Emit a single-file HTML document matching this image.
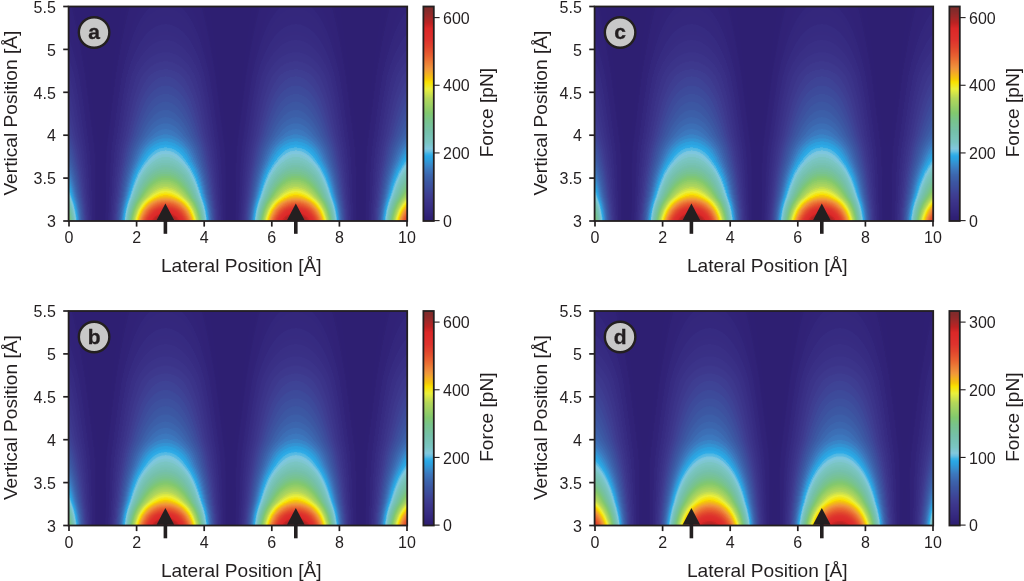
<!DOCTYPE html>
<html><head><meta charset="utf-8"><style>
html,body{margin:0;padding:0;background:#fff;width:1024px;height:581px;overflow:hidden}
canvas{position:absolute;filter:blur(0.35px)}
svg{position:absolute;left:0;top:0}
text{font-family:"Liberation Sans",sans-serif;fill:#231f20}
</style></head><body>
<svg width="1024" height="581" style="position:absolute;left:0;top:0"><defs>
<clipPath id="fc0"><rect x="68.6" y="6.5" width="338.6" height="214.5"/></clipPath>
<radialGradient id="fg0_0" gradientUnits="userSpaceOnUse" cx="34.9" cy="281.1" r="98.6" gradientTransform="translate(34.9,281.1) scale(1,3.046) translate(-34.9,-281.1)"><stop offset="0.000" stop-color="rgb(128,43,43)" stop-opacity="1.00"/><stop offset="0.042" stop-color="rgb(128,43,43)" stop-opacity="1.00"/><stop offset="0.083" stop-color="rgb(128,43,43)" stop-opacity="1.00"/><stop offset="0.125" stop-color="rgb(128,43,43)" stop-opacity="1.00"/><stop offset="0.167" stop-color="rgb(128,43,43)" stop-opacity="1.00"/><stop offset="0.208" stop-color="rgb(140,41,41)" stop-opacity="1.00"/><stop offset="0.250" stop-color="rgb(224,68,45)" stop-opacity="1.00"/><stop offset="0.292" stop-color="rgb(244,230,20)" stop-opacity="1.00"/><stop offset="0.333" stop-color="rgb(145,204,103)" stop-opacity="1.00"/><stop offset="0.375" stop-color="rgb(117,192,162)" stop-opacity="1.00"/><stop offset="0.417" stop-color="rgb(125,198,206)" stop-opacity="1.00"/><stop offset="0.458" stop-color="rgb(44,162,224)" stop-opacity="1.00"/><stop offset="0.500" stop-color="rgb(60,118,189)" stop-opacity="1.00"/><stop offset="0.542" stop-color="rgb(60,99,172)" stop-opacity="1.00"/><stop offset="0.583" stop-color="rgb(60,87,162)" stop-opacity="1.00"/><stop offset="0.625" stop-color="rgb(60,77,156)" stop-opacity="1.00"/><stop offset="0.667" stop-color="rgb(61,67,149)" stop-opacity="1.00"/><stop offset="0.708" stop-color="rgb(61,58,142)" stop-opacity="1.00"/><stop offset="0.750" stop-color="rgb(59,51,136)" stop-opacity="1.00"/><stop offset="0.792" stop-color="rgb(56,46,132)" stop-opacity="1.00"/><stop offset="0.833" stop-color="rgb(54,42,128)" stop-opacity="1.00"/><stop offset="0.875" stop-color="rgb(52,39,125)" stop-opacity="0.83"/><stop offset="0.917" stop-color="rgb(50,37,122)" stop-opacity="0.56"/><stop offset="0.958" stop-color="rgb(49,35,120)" stop-opacity="0.28"/><stop offset="1.000" stop-color="rgb(49,34,120)" stop-opacity="0.00"/></radialGradient>
<radialGradient id="fg0_1" gradientUnits="userSpaceOnUse" cx="165.4" cy="281.1" r="98.6" gradientTransform="translate(165.4,281.1) scale(1,3.046) translate(-165.4,-281.1)"><stop offset="0.000" stop-color="rgb(128,43,43)" stop-opacity="1.00"/><stop offset="0.042" stop-color="rgb(128,43,43)" stop-opacity="1.00"/><stop offset="0.083" stop-color="rgb(128,43,43)" stop-opacity="1.00"/><stop offset="0.125" stop-color="rgb(128,43,43)" stop-opacity="1.00"/><stop offset="0.167" stop-color="rgb(128,43,43)" stop-opacity="1.00"/><stop offset="0.208" stop-color="rgb(140,41,41)" stop-opacity="1.00"/><stop offset="0.250" stop-color="rgb(224,68,45)" stop-opacity="1.00"/><stop offset="0.292" stop-color="rgb(244,230,20)" stop-opacity="1.00"/><stop offset="0.333" stop-color="rgb(145,204,103)" stop-opacity="1.00"/><stop offset="0.375" stop-color="rgb(117,192,162)" stop-opacity="1.00"/><stop offset="0.417" stop-color="rgb(125,198,206)" stop-opacity="1.00"/><stop offset="0.458" stop-color="rgb(44,162,224)" stop-opacity="1.00"/><stop offset="0.500" stop-color="rgb(60,118,189)" stop-opacity="1.00"/><stop offset="0.542" stop-color="rgb(60,99,172)" stop-opacity="1.00"/><stop offset="0.583" stop-color="rgb(60,87,162)" stop-opacity="1.00"/><stop offset="0.625" stop-color="rgb(60,77,156)" stop-opacity="1.00"/><stop offset="0.667" stop-color="rgb(61,67,149)" stop-opacity="1.00"/><stop offset="0.708" stop-color="rgb(61,58,142)" stop-opacity="1.00"/><stop offset="0.750" stop-color="rgb(59,51,136)" stop-opacity="1.00"/><stop offset="0.792" stop-color="rgb(56,46,132)" stop-opacity="1.00"/><stop offset="0.833" stop-color="rgb(54,42,128)" stop-opacity="1.00"/><stop offset="0.875" stop-color="rgb(52,39,125)" stop-opacity="0.83"/><stop offset="0.917" stop-color="rgb(50,37,122)" stop-opacity="0.56"/><stop offset="0.958" stop-color="rgb(49,35,120)" stop-opacity="0.28"/><stop offset="1.000" stop-color="rgb(49,34,120)" stop-opacity="0.00"/></radialGradient>
<radialGradient id="fg0_2" gradientUnits="userSpaceOnUse" cx="295.9" cy="281.1" r="98.6" gradientTransform="translate(295.9,281.1) scale(1,3.046) translate(-295.9,-281.1)"><stop offset="0.000" stop-color="rgb(128,43,43)" stop-opacity="1.00"/><stop offset="0.042" stop-color="rgb(128,43,43)" stop-opacity="1.00"/><stop offset="0.083" stop-color="rgb(128,43,43)" stop-opacity="1.00"/><stop offset="0.125" stop-color="rgb(128,43,43)" stop-opacity="1.00"/><stop offset="0.167" stop-color="rgb(128,43,43)" stop-opacity="1.00"/><stop offset="0.208" stop-color="rgb(140,41,41)" stop-opacity="1.00"/><stop offset="0.250" stop-color="rgb(224,68,45)" stop-opacity="1.00"/><stop offset="0.292" stop-color="rgb(244,230,20)" stop-opacity="1.00"/><stop offset="0.333" stop-color="rgb(145,204,103)" stop-opacity="1.00"/><stop offset="0.375" stop-color="rgb(117,192,162)" stop-opacity="1.00"/><stop offset="0.417" stop-color="rgb(125,198,206)" stop-opacity="1.00"/><stop offset="0.458" stop-color="rgb(44,162,224)" stop-opacity="1.00"/><stop offset="0.500" stop-color="rgb(60,118,189)" stop-opacity="1.00"/><stop offset="0.542" stop-color="rgb(60,99,172)" stop-opacity="1.00"/><stop offset="0.583" stop-color="rgb(60,87,162)" stop-opacity="1.00"/><stop offset="0.625" stop-color="rgb(60,77,156)" stop-opacity="1.00"/><stop offset="0.667" stop-color="rgb(61,67,149)" stop-opacity="1.00"/><stop offset="0.708" stop-color="rgb(61,58,142)" stop-opacity="1.00"/><stop offset="0.750" stop-color="rgb(59,51,136)" stop-opacity="1.00"/><stop offset="0.792" stop-color="rgb(56,46,132)" stop-opacity="1.00"/><stop offset="0.833" stop-color="rgb(54,42,128)" stop-opacity="1.00"/><stop offset="0.875" stop-color="rgb(52,39,125)" stop-opacity="0.83"/><stop offset="0.917" stop-color="rgb(50,37,122)" stop-opacity="0.56"/><stop offset="0.958" stop-color="rgb(49,35,120)" stop-opacity="0.28"/><stop offset="1.000" stop-color="rgb(49,34,120)" stop-opacity="0.00"/></radialGradient>
<radialGradient id="fg0_3" gradientUnits="userSpaceOnUse" cx="426.3" cy="281.1" r="98.6" gradientTransform="translate(426.3,281.1) scale(1,3.046) translate(-426.3,-281.1)"><stop offset="0.000" stop-color="rgb(128,43,43)" stop-opacity="1.00"/><stop offset="0.042" stop-color="rgb(128,43,43)" stop-opacity="1.00"/><stop offset="0.083" stop-color="rgb(128,43,43)" stop-opacity="1.00"/><stop offset="0.125" stop-color="rgb(128,43,43)" stop-opacity="1.00"/><stop offset="0.167" stop-color="rgb(128,43,43)" stop-opacity="1.00"/><stop offset="0.208" stop-color="rgb(140,41,41)" stop-opacity="1.00"/><stop offset="0.250" stop-color="rgb(224,68,45)" stop-opacity="1.00"/><stop offset="0.292" stop-color="rgb(244,230,20)" stop-opacity="1.00"/><stop offset="0.333" stop-color="rgb(145,204,103)" stop-opacity="1.00"/><stop offset="0.375" stop-color="rgb(117,192,162)" stop-opacity="1.00"/><stop offset="0.417" stop-color="rgb(125,198,206)" stop-opacity="1.00"/><stop offset="0.458" stop-color="rgb(44,162,224)" stop-opacity="1.00"/><stop offset="0.500" stop-color="rgb(60,118,189)" stop-opacity="1.00"/><stop offset="0.542" stop-color="rgb(60,99,172)" stop-opacity="1.00"/><stop offset="0.583" stop-color="rgb(60,87,162)" stop-opacity="1.00"/><stop offset="0.625" stop-color="rgb(60,77,156)" stop-opacity="1.00"/><stop offset="0.667" stop-color="rgb(61,67,149)" stop-opacity="1.00"/><stop offset="0.708" stop-color="rgb(61,58,142)" stop-opacity="1.00"/><stop offset="0.750" stop-color="rgb(59,51,136)" stop-opacity="1.00"/><stop offset="0.792" stop-color="rgb(56,46,132)" stop-opacity="1.00"/><stop offset="0.833" stop-color="rgb(54,42,128)" stop-opacity="1.00"/><stop offset="0.875" stop-color="rgb(52,39,125)" stop-opacity="0.83"/><stop offset="0.917" stop-color="rgb(50,37,122)" stop-opacity="0.56"/><stop offset="0.958" stop-color="rgb(49,35,120)" stop-opacity="0.28"/><stop offset="1.000" stop-color="rgb(49,34,120)" stop-opacity="0.00"/></radialGradient>
<clipPath id="fc1"><rect x="594.6" y="6.5" width="338.6" height="214.5"/></clipPath>
<radialGradient id="fg1_0" gradientUnits="userSpaceOnUse" cx="560.9" cy="281.1" r="98.6" gradientTransform="translate(560.9,281.1) scale(1,3.046) translate(-560.9,-281.1)"><stop offset="0.000" stop-color="rgb(128,43,43)" stop-opacity="1.00"/><stop offset="0.042" stop-color="rgb(128,43,43)" stop-opacity="1.00"/><stop offset="0.083" stop-color="rgb(128,43,43)" stop-opacity="1.00"/><stop offset="0.125" stop-color="rgb(128,43,43)" stop-opacity="1.00"/><stop offset="0.167" stop-color="rgb(128,43,43)" stop-opacity="1.00"/><stop offset="0.208" stop-color="rgb(140,41,41)" stop-opacity="1.00"/><stop offset="0.250" stop-color="rgb(224,68,45)" stop-opacity="1.00"/><stop offset="0.292" stop-color="rgb(244,230,20)" stop-opacity="1.00"/><stop offset="0.333" stop-color="rgb(145,204,103)" stop-opacity="1.00"/><stop offset="0.375" stop-color="rgb(117,192,162)" stop-opacity="1.00"/><stop offset="0.417" stop-color="rgb(125,198,206)" stop-opacity="1.00"/><stop offset="0.458" stop-color="rgb(44,162,224)" stop-opacity="1.00"/><stop offset="0.500" stop-color="rgb(60,118,189)" stop-opacity="1.00"/><stop offset="0.542" stop-color="rgb(60,99,172)" stop-opacity="1.00"/><stop offset="0.583" stop-color="rgb(60,87,162)" stop-opacity="1.00"/><stop offset="0.625" stop-color="rgb(60,77,156)" stop-opacity="1.00"/><stop offset="0.667" stop-color="rgb(61,67,149)" stop-opacity="1.00"/><stop offset="0.708" stop-color="rgb(61,58,142)" stop-opacity="1.00"/><stop offset="0.750" stop-color="rgb(59,51,136)" stop-opacity="1.00"/><stop offset="0.792" stop-color="rgb(56,46,132)" stop-opacity="1.00"/><stop offset="0.833" stop-color="rgb(54,42,128)" stop-opacity="1.00"/><stop offset="0.875" stop-color="rgb(52,39,125)" stop-opacity="0.83"/><stop offset="0.917" stop-color="rgb(50,37,122)" stop-opacity="0.56"/><stop offset="0.958" stop-color="rgb(49,35,120)" stop-opacity="0.28"/><stop offset="1.000" stop-color="rgb(49,34,120)" stop-opacity="0.00"/></radialGradient>
<radialGradient id="fg1_1" gradientUnits="userSpaceOnUse" cx="691.4" cy="281.1" r="98.6" gradientTransform="translate(691.4,281.1) scale(1,3.046) translate(-691.4,-281.1)"><stop offset="0.000" stop-color="rgb(128,43,43)" stop-opacity="1.00"/><stop offset="0.042" stop-color="rgb(128,43,43)" stop-opacity="1.00"/><stop offset="0.083" stop-color="rgb(128,43,43)" stop-opacity="1.00"/><stop offset="0.125" stop-color="rgb(128,43,43)" stop-opacity="1.00"/><stop offset="0.167" stop-color="rgb(128,43,43)" stop-opacity="1.00"/><stop offset="0.208" stop-color="rgb(140,41,41)" stop-opacity="1.00"/><stop offset="0.250" stop-color="rgb(224,68,45)" stop-opacity="1.00"/><stop offset="0.292" stop-color="rgb(244,230,20)" stop-opacity="1.00"/><stop offset="0.333" stop-color="rgb(145,204,103)" stop-opacity="1.00"/><stop offset="0.375" stop-color="rgb(117,192,162)" stop-opacity="1.00"/><stop offset="0.417" stop-color="rgb(125,198,206)" stop-opacity="1.00"/><stop offset="0.458" stop-color="rgb(44,162,224)" stop-opacity="1.00"/><stop offset="0.500" stop-color="rgb(60,118,189)" stop-opacity="1.00"/><stop offset="0.542" stop-color="rgb(60,99,172)" stop-opacity="1.00"/><stop offset="0.583" stop-color="rgb(60,87,162)" stop-opacity="1.00"/><stop offset="0.625" stop-color="rgb(60,77,156)" stop-opacity="1.00"/><stop offset="0.667" stop-color="rgb(61,67,149)" stop-opacity="1.00"/><stop offset="0.708" stop-color="rgb(61,58,142)" stop-opacity="1.00"/><stop offset="0.750" stop-color="rgb(59,51,136)" stop-opacity="1.00"/><stop offset="0.792" stop-color="rgb(56,46,132)" stop-opacity="1.00"/><stop offset="0.833" stop-color="rgb(54,42,128)" stop-opacity="1.00"/><stop offset="0.875" stop-color="rgb(52,39,125)" stop-opacity="0.83"/><stop offset="0.917" stop-color="rgb(50,37,122)" stop-opacity="0.56"/><stop offset="0.958" stop-color="rgb(49,35,120)" stop-opacity="0.28"/><stop offset="1.000" stop-color="rgb(49,34,120)" stop-opacity="0.00"/></radialGradient>
<radialGradient id="fg1_2" gradientUnits="userSpaceOnUse" cx="821.9" cy="281.1" r="98.6" gradientTransform="translate(821.9,281.1) scale(1,3.046) translate(-821.9,-281.1)"><stop offset="0.000" stop-color="rgb(128,43,43)" stop-opacity="1.00"/><stop offset="0.042" stop-color="rgb(128,43,43)" stop-opacity="1.00"/><stop offset="0.083" stop-color="rgb(128,43,43)" stop-opacity="1.00"/><stop offset="0.125" stop-color="rgb(128,43,43)" stop-opacity="1.00"/><stop offset="0.167" stop-color="rgb(128,43,43)" stop-opacity="1.00"/><stop offset="0.208" stop-color="rgb(140,41,41)" stop-opacity="1.00"/><stop offset="0.250" stop-color="rgb(224,68,45)" stop-opacity="1.00"/><stop offset="0.292" stop-color="rgb(244,230,20)" stop-opacity="1.00"/><stop offset="0.333" stop-color="rgb(145,204,103)" stop-opacity="1.00"/><stop offset="0.375" stop-color="rgb(117,192,162)" stop-opacity="1.00"/><stop offset="0.417" stop-color="rgb(125,198,206)" stop-opacity="1.00"/><stop offset="0.458" stop-color="rgb(44,162,224)" stop-opacity="1.00"/><stop offset="0.500" stop-color="rgb(60,118,189)" stop-opacity="1.00"/><stop offset="0.542" stop-color="rgb(60,99,172)" stop-opacity="1.00"/><stop offset="0.583" stop-color="rgb(60,87,162)" stop-opacity="1.00"/><stop offset="0.625" stop-color="rgb(60,77,156)" stop-opacity="1.00"/><stop offset="0.667" stop-color="rgb(61,67,149)" stop-opacity="1.00"/><stop offset="0.708" stop-color="rgb(61,58,142)" stop-opacity="1.00"/><stop offset="0.750" stop-color="rgb(59,51,136)" stop-opacity="1.00"/><stop offset="0.792" stop-color="rgb(56,46,132)" stop-opacity="1.00"/><stop offset="0.833" stop-color="rgb(54,42,128)" stop-opacity="1.00"/><stop offset="0.875" stop-color="rgb(52,39,125)" stop-opacity="0.83"/><stop offset="0.917" stop-color="rgb(50,37,122)" stop-opacity="0.56"/><stop offset="0.958" stop-color="rgb(49,35,120)" stop-opacity="0.28"/><stop offset="1.000" stop-color="rgb(49,34,120)" stop-opacity="0.00"/></radialGradient>
<radialGradient id="fg1_3" gradientUnits="userSpaceOnUse" cx="952.3" cy="281.1" r="98.6" gradientTransform="translate(952.3,281.1) scale(1,3.046) translate(-952.3,-281.1)"><stop offset="0.000" stop-color="rgb(128,43,43)" stop-opacity="1.00"/><stop offset="0.042" stop-color="rgb(128,43,43)" stop-opacity="1.00"/><stop offset="0.083" stop-color="rgb(128,43,43)" stop-opacity="1.00"/><stop offset="0.125" stop-color="rgb(128,43,43)" stop-opacity="1.00"/><stop offset="0.167" stop-color="rgb(128,43,43)" stop-opacity="1.00"/><stop offset="0.208" stop-color="rgb(140,41,41)" stop-opacity="1.00"/><stop offset="0.250" stop-color="rgb(224,68,45)" stop-opacity="1.00"/><stop offset="0.292" stop-color="rgb(244,230,20)" stop-opacity="1.00"/><stop offset="0.333" stop-color="rgb(145,204,103)" stop-opacity="1.00"/><stop offset="0.375" stop-color="rgb(117,192,162)" stop-opacity="1.00"/><stop offset="0.417" stop-color="rgb(125,198,206)" stop-opacity="1.00"/><stop offset="0.458" stop-color="rgb(44,162,224)" stop-opacity="1.00"/><stop offset="0.500" stop-color="rgb(60,118,189)" stop-opacity="1.00"/><stop offset="0.542" stop-color="rgb(60,99,172)" stop-opacity="1.00"/><stop offset="0.583" stop-color="rgb(60,87,162)" stop-opacity="1.00"/><stop offset="0.625" stop-color="rgb(60,77,156)" stop-opacity="1.00"/><stop offset="0.667" stop-color="rgb(61,67,149)" stop-opacity="1.00"/><stop offset="0.708" stop-color="rgb(61,58,142)" stop-opacity="1.00"/><stop offset="0.750" stop-color="rgb(59,51,136)" stop-opacity="1.00"/><stop offset="0.792" stop-color="rgb(56,46,132)" stop-opacity="1.00"/><stop offset="0.833" stop-color="rgb(54,42,128)" stop-opacity="1.00"/><stop offset="0.875" stop-color="rgb(52,39,125)" stop-opacity="0.83"/><stop offset="0.917" stop-color="rgb(50,37,122)" stop-opacity="0.56"/><stop offset="0.958" stop-color="rgb(49,35,120)" stop-opacity="0.28"/><stop offset="1.000" stop-color="rgb(49,34,120)" stop-opacity="0.00"/></radialGradient>
<clipPath id="fc2"><rect x="68.6" y="311.0" width="338.6" height="214.5"/></clipPath>
<radialGradient id="fg2_0" gradientUnits="userSpaceOnUse" cx="34.9" cy="585.6" r="98.6" gradientTransform="translate(34.9,585.6) scale(1,3.046) translate(-34.9,-585.6)"><stop offset="0.000" stop-color="rgb(128,43,43)" stop-opacity="1.00"/><stop offset="0.042" stop-color="rgb(128,43,43)" stop-opacity="1.00"/><stop offset="0.083" stop-color="rgb(128,43,43)" stop-opacity="1.00"/><stop offset="0.125" stop-color="rgb(128,43,43)" stop-opacity="1.00"/><stop offset="0.167" stop-color="rgb(128,43,43)" stop-opacity="1.00"/><stop offset="0.208" stop-color="rgb(140,41,41)" stop-opacity="1.00"/><stop offset="0.250" stop-color="rgb(224,68,45)" stop-opacity="1.00"/><stop offset="0.292" stop-color="rgb(244,230,20)" stop-opacity="1.00"/><stop offset="0.333" stop-color="rgb(145,204,103)" stop-opacity="1.00"/><stop offset="0.375" stop-color="rgb(117,192,162)" stop-opacity="1.00"/><stop offset="0.417" stop-color="rgb(125,198,206)" stop-opacity="1.00"/><stop offset="0.458" stop-color="rgb(44,162,224)" stop-opacity="1.00"/><stop offset="0.500" stop-color="rgb(60,118,189)" stop-opacity="1.00"/><stop offset="0.542" stop-color="rgb(60,99,172)" stop-opacity="1.00"/><stop offset="0.583" stop-color="rgb(60,87,162)" stop-opacity="1.00"/><stop offset="0.625" stop-color="rgb(60,77,156)" stop-opacity="1.00"/><stop offset="0.667" stop-color="rgb(61,67,149)" stop-opacity="1.00"/><stop offset="0.708" stop-color="rgb(61,58,142)" stop-opacity="1.00"/><stop offset="0.750" stop-color="rgb(59,51,136)" stop-opacity="1.00"/><stop offset="0.792" stop-color="rgb(56,46,132)" stop-opacity="1.00"/><stop offset="0.833" stop-color="rgb(54,42,128)" stop-opacity="1.00"/><stop offset="0.875" stop-color="rgb(52,39,125)" stop-opacity="0.83"/><stop offset="0.917" stop-color="rgb(50,37,122)" stop-opacity="0.56"/><stop offset="0.958" stop-color="rgb(49,35,120)" stop-opacity="0.28"/><stop offset="1.000" stop-color="rgb(49,34,120)" stop-opacity="0.00"/></radialGradient>
<radialGradient id="fg2_1" gradientUnits="userSpaceOnUse" cx="165.4" cy="585.6" r="98.6" gradientTransform="translate(165.4,585.6) scale(1,3.046) translate(-165.4,-585.6)"><stop offset="0.000" stop-color="rgb(128,43,43)" stop-opacity="1.00"/><stop offset="0.042" stop-color="rgb(128,43,43)" stop-opacity="1.00"/><stop offset="0.083" stop-color="rgb(128,43,43)" stop-opacity="1.00"/><stop offset="0.125" stop-color="rgb(128,43,43)" stop-opacity="1.00"/><stop offset="0.167" stop-color="rgb(128,43,43)" stop-opacity="1.00"/><stop offset="0.208" stop-color="rgb(140,41,41)" stop-opacity="1.00"/><stop offset="0.250" stop-color="rgb(224,68,45)" stop-opacity="1.00"/><stop offset="0.292" stop-color="rgb(244,230,20)" stop-opacity="1.00"/><stop offset="0.333" stop-color="rgb(145,204,103)" stop-opacity="1.00"/><stop offset="0.375" stop-color="rgb(117,192,162)" stop-opacity="1.00"/><stop offset="0.417" stop-color="rgb(125,198,206)" stop-opacity="1.00"/><stop offset="0.458" stop-color="rgb(44,162,224)" stop-opacity="1.00"/><stop offset="0.500" stop-color="rgb(60,118,189)" stop-opacity="1.00"/><stop offset="0.542" stop-color="rgb(60,99,172)" stop-opacity="1.00"/><stop offset="0.583" stop-color="rgb(60,87,162)" stop-opacity="1.00"/><stop offset="0.625" stop-color="rgb(60,77,156)" stop-opacity="1.00"/><stop offset="0.667" stop-color="rgb(61,67,149)" stop-opacity="1.00"/><stop offset="0.708" stop-color="rgb(61,58,142)" stop-opacity="1.00"/><stop offset="0.750" stop-color="rgb(59,51,136)" stop-opacity="1.00"/><stop offset="0.792" stop-color="rgb(56,46,132)" stop-opacity="1.00"/><stop offset="0.833" stop-color="rgb(54,42,128)" stop-opacity="1.00"/><stop offset="0.875" stop-color="rgb(52,39,125)" stop-opacity="0.83"/><stop offset="0.917" stop-color="rgb(50,37,122)" stop-opacity="0.56"/><stop offset="0.958" stop-color="rgb(49,35,120)" stop-opacity="0.28"/><stop offset="1.000" stop-color="rgb(49,34,120)" stop-opacity="0.00"/></radialGradient>
<radialGradient id="fg2_2" gradientUnits="userSpaceOnUse" cx="295.9" cy="585.6" r="98.6" gradientTransform="translate(295.9,585.6) scale(1,3.046) translate(-295.9,-585.6)"><stop offset="0.000" stop-color="rgb(128,43,43)" stop-opacity="1.00"/><stop offset="0.042" stop-color="rgb(128,43,43)" stop-opacity="1.00"/><stop offset="0.083" stop-color="rgb(128,43,43)" stop-opacity="1.00"/><stop offset="0.125" stop-color="rgb(128,43,43)" stop-opacity="1.00"/><stop offset="0.167" stop-color="rgb(128,43,43)" stop-opacity="1.00"/><stop offset="0.208" stop-color="rgb(140,41,41)" stop-opacity="1.00"/><stop offset="0.250" stop-color="rgb(224,68,45)" stop-opacity="1.00"/><stop offset="0.292" stop-color="rgb(244,230,20)" stop-opacity="1.00"/><stop offset="0.333" stop-color="rgb(145,204,103)" stop-opacity="1.00"/><stop offset="0.375" stop-color="rgb(117,192,162)" stop-opacity="1.00"/><stop offset="0.417" stop-color="rgb(125,198,206)" stop-opacity="1.00"/><stop offset="0.458" stop-color="rgb(44,162,224)" stop-opacity="1.00"/><stop offset="0.500" stop-color="rgb(60,118,189)" stop-opacity="1.00"/><stop offset="0.542" stop-color="rgb(60,99,172)" stop-opacity="1.00"/><stop offset="0.583" stop-color="rgb(60,87,162)" stop-opacity="1.00"/><stop offset="0.625" stop-color="rgb(60,77,156)" stop-opacity="1.00"/><stop offset="0.667" stop-color="rgb(61,67,149)" stop-opacity="1.00"/><stop offset="0.708" stop-color="rgb(61,58,142)" stop-opacity="1.00"/><stop offset="0.750" stop-color="rgb(59,51,136)" stop-opacity="1.00"/><stop offset="0.792" stop-color="rgb(56,46,132)" stop-opacity="1.00"/><stop offset="0.833" stop-color="rgb(54,42,128)" stop-opacity="1.00"/><stop offset="0.875" stop-color="rgb(52,39,125)" stop-opacity="0.83"/><stop offset="0.917" stop-color="rgb(50,37,122)" stop-opacity="0.56"/><stop offset="0.958" stop-color="rgb(49,35,120)" stop-opacity="0.28"/><stop offset="1.000" stop-color="rgb(49,34,120)" stop-opacity="0.00"/></radialGradient>
<radialGradient id="fg2_3" gradientUnits="userSpaceOnUse" cx="426.3" cy="585.6" r="98.6" gradientTransform="translate(426.3,585.6) scale(1,3.046) translate(-426.3,-585.6)"><stop offset="0.000" stop-color="rgb(128,43,43)" stop-opacity="1.00"/><stop offset="0.042" stop-color="rgb(128,43,43)" stop-opacity="1.00"/><stop offset="0.083" stop-color="rgb(128,43,43)" stop-opacity="1.00"/><stop offset="0.125" stop-color="rgb(128,43,43)" stop-opacity="1.00"/><stop offset="0.167" stop-color="rgb(128,43,43)" stop-opacity="1.00"/><stop offset="0.208" stop-color="rgb(140,41,41)" stop-opacity="1.00"/><stop offset="0.250" stop-color="rgb(224,68,45)" stop-opacity="1.00"/><stop offset="0.292" stop-color="rgb(244,230,20)" stop-opacity="1.00"/><stop offset="0.333" stop-color="rgb(145,204,103)" stop-opacity="1.00"/><stop offset="0.375" stop-color="rgb(117,192,162)" stop-opacity="1.00"/><stop offset="0.417" stop-color="rgb(125,198,206)" stop-opacity="1.00"/><stop offset="0.458" stop-color="rgb(44,162,224)" stop-opacity="1.00"/><stop offset="0.500" stop-color="rgb(60,118,189)" stop-opacity="1.00"/><stop offset="0.542" stop-color="rgb(60,99,172)" stop-opacity="1.00"/><stop offset="0.583" stop-color="rgb(60,87,162)" stop-opacity="1.00"/><stop offset="0.625" stop-color="rgb(60,77,156)" stop-opacity="1.00"/><stop offset="0.667" stop-color="rgb(61,67,149)" stop-opacity="1.00"/><stop offset="0.708" stop-color="rgb(61,58,142)" stop-opacity="1.00"/><stop offset="0.750" stop-color="rgb(59,51,136)" stop-opacity="1.00"/><stop offset="0.792" stop-color="rgb(56,46,132)" stop-opacity="1.00"/><stop offset="0.833" stop-color="rgb(54,42,128)" stop-opacity="1.00"/><stop offset="0.875" stop-color="rgb(52,39,125)" stop-opacity="0.83"/><stop offset="0.917" stop-color="rgb(50,37,122)" stop-opacity="0.56"/><stop offset="0.958" stop-color="rgb(49,35,120)" stop-opacity="0.28"/><stop offset="1.000" stop-color="rgb(49,34,120)" stop-opacity="0.00"/></radialGradient>
<clipPath id="fc3"><rect x="594.6" y="311.0" width="338.6" height="214.5"/></clipPath>
<radialGradient id="fg3_0" gradientUnits="userSpaceOnUse" cx="578.8" cy="585.6" r="98.6" gradientTransform="translate(578.8,585.6) scale(1,3.046) translate(-578.8,-585.6)"><stop offset="0.000" stop-color="rgb(128,43,43)" stop-opacity="1.00"/><stop offset="0.042" stop-color="rgb(128,43,43)" stop-opacity="1.00"/><stop offset="0.083" stop-color="rgb(128,43,43)" stop-opacity="1.00"/><stop offset="0.125" stop-color="rgb(128,43,43)" stop-opacity="1.00"/><stop offset="0.167" stop-color="rgb(128,43,43)" stop-opacity="1.00"/><stop offset="0.208" stop-color="rgb(140,41,41)" stop-opacity="1.00"/><stop offset="0.250" stop-color="rgb(224,68,45)" stop-opacity="1.00"/><stop offset="0.292" stop-color="rgb(244,230,20)" stop-opacity="1.00"/><stop offset="0.333" stop-color="rgb(145,204,103)" stop-opacity="1.00"/><stop offset="0.375" stop-color="rgb(117,192,162)" stop-opacity="1.00"/><stop offset="0.417" stop-color="rgb(125,198,206)" stop-opacity="1.00"/><stop offset="0.458" stop-color="rgb(44,162,224)" stop-opacity="1.00"/><stop offset="0.500" stop-color="rgb(60,118,189)" stop-opacity="1.00"/><stop offset="0.542" stop-color="rgb(60,99,172)" stop-opacity="1.00"/><stop offset="0.583" stop-color="rgb(60,87,162)" stop-opacity="1.00"/><stop offset="0.625" stop-color="rgb(60,77,156)" stop-opacity="1.00"/><stop offset="0.667" stop-color="rgb(61,67,149)" stop-opacity="1.00"/><stop offset="0.708" stop-color="rgb(61,58,142)" stop-opacity="1.00"/><stop offset="0.750" stop-color="rgb(59,51,136)" stop-opacity="1.00"/><stop offset="0.792" stop-color="rgb(56,46,132)" stop-opacity="1.00"/><stop offset="0.833" stop-color="rgb(54,42,128)" stop-opacity="1.00"/><stop offset="0.875" stop-color="rgb(52,39,125)" stop-opacity="0.83"/><stop offset="0.917" stop-color="rgb(50,37,122)" stop-opacity="0.56"/><stop offset="0.958" stop-color="rgb(49,35,120)" stop-opacity="0.28"/><stop offset="1.000" stop-color="rgb(49,34,120)" stop-opacity="0.00"/></radialGradient>
<radialGradient id="fg3_1" gradientUnits="userSpaceOnUse" cx="709.3" cy="585.6" r="98.6" gradientTransform="translate(709.3,585.6) scale(1,3.046) translate(-709.3,-585.6)"><stop offset="0.000" stop-color="rgb(128,43,43)" stop-opacity="1.00"/><stop offset="0.042" stop-color="rgb(128,43,43)" stop-opacity="1.00"/><stop offset="0.083" stop-color="rgb(128,43,43)" stop-opacity="1.00"/><stop offset="0.125" stop-color="rgb(128,43,43)" stop-opacity="1.00"/><stop offset="0.167" stop-color="rgb(128,43,43)" stop-opacity="1.00"/><stop offset="0.208" stop-color="rgb(140,41,41)" stop-opacity="1.00"/><stop offset="0.250" stop-color="rgb(224,68,45)" stop-opacity="1.00"/><stop offset="0.292" stop-color="rgb(244,230,20)" stop-opacity="1.00"/><stop offset="0.333" stop-color="rgb(145,204,103)" stop-opacity="1.00"/><stop offset="0.375" stop-color="rgb(117,192,162)" stop-opacity="1.00"/><stop offset="0.417" stop-color="rgb(125,198,206)" stop-opacity="1.00"/><stop offset="0.458" stop-color="rgb(44,162,224)" stop-opacity="1.00"/><stop offset="0.500" stop-color="rgb(60,118,189)" stop-opacity="1.00"/><stop offset="0.542" stop-color="rgb(60,99,172)" stop-opacity="1.00"/><stop offset="0.583" stop-color="rgb(60,87,162)" stop-opacity="1.00"/><stop offset="0.625" stop-color="rgb(60,77,156)" stop-opacity="1.00"/><stop offset="0.667" stop-color="rgb(61,67,149)" stop-opacity="1.00"/><stop offset="0.708" stop-color="rgb(61,58,142)" stop-opacity="1.00"/><stop offset="0.750" stop-color="rgb(59,51,136)" stop-opacity="1.00"/><stop offset="0.792" stop-color="rgb(56,46,132)" stop-opacity="1.00"/><stop offset="0.833" stop-color="rgb(54,42,128)" stop-opacity="1.00"/><stop offset="0.875" stop-color="rgb(52,39,125)" stop-opacity="0.83"/><stop offset="0.917" stop-color="rgb(50,37,122)" stop-opacity="0.56"/><stop offset="0.958" stop-color="rgb(49,35,120)" stop-opacity="0.28"/><stop offset="1.000" stop-color="rgb(49,34,120)" stop-opacity="0.00"/></radialGradient>
<radialGradient id="fg3_2" gradientUnits="userSpaceOnUse" cx="839.8" cy="585.6" r="98.6" gradientTransform="translate(839.8,585.6) scale(1,3.046) translate(-839.8,-585.6)"><stop offset="0.000" stop-color="rgb(128,43,43)" stop-opacity="1.00"/><stop offset="0.042" stop-color="rgb(128,43,43)" stop-opacity="1.00"/><stop offset="0.083" stop-color="rgb(128,43,43)" stop-opacity="1.00"/><stop offset="0.125" stop-color="rgb(128,43,43)" stop-opacity="1.00"/><stop offset="0.167" stop-color="rgb(128,43,43)" stop-opacity="1.00"/><stop offset="0.208" stop-color="rgb(140,41,41)" stop-opacity="1.00"/><stop offset="0.250" stop-color="rgb(224,68,45)" stop-opacity="1.00"/><stop offset="0.292" stop-color="rgb(244,230,20)" stop-opacity="1.00"/><stop offset="0.333" stop-color="rgb(145,204,103)" stop-opacity="1.00"/><stop offset="0.375" stop-color="rgb(117,192,162)" stop-opacity="1.00"/><stop offset="0.417" stop-color="rgb(125,198,206)" stop-opacity="1.00"/><stop offset="0.458" stop-color="rgb(44,162,224)" stop-opacity="1.00"/><stop offset="0.500" stop-color="rgb(60,118,189)" stop-opacity="1.00"/><stop offset="0.542" stop-color="rgb(60,99,172)" stop-opacity="1.00"/><stop offset="0.583" stop-color="rgb(60,87,162)" stop-opacity="1.00"/><stop offset="0.625" stop-color="rgb(60,77,156)" stop-opacity="1.00"/><stop offset="0.667" stop-color="rgb(61,67,149)" stop-opacity="1.00"/><stop offset="0.708" stop-color="rgb(61,58,142)" stop-opacity="1.00"/><stop offset="0.750" stop-color="rgb(59,51,136)" stop-opacity="1.00"/><stop offset="0.792" stop-color="rgb(56,46,132)" stop-opacity="1.00"/><stop offset="0.833" stop-color="rgb(54,42,128)" stop-opacity="1.00"/><stop offset="0.875" stop-color="rgb(52,39,125)" stop-opacity="0.83"/><stop offset="0.917" stop-color="rgb(50,37,122)" stop-opacity="0.56"/><stop offset="0.958" stop-color="rgb(49,35,120)" stop-opacity="0.28"/><stop offset="1.000" stop-color="rgb(49,34,120)" stop-opacity="0.00"/></radialGradient>
<radialGradient id="fg3_3" gradientUnits="userSpaceOnUse" cx="970.2" cy="585.6" r="98.6" gradientTransform="translate(970.2,585.6) scale(1,3.046) translate(-970.2,-585.6)"><stop offset="0.000" stop-color="rgb(128,43,43)" stop-opacity="1.00"/><stop offset="0.042" stop-color="rgb(128,43,43)" stop-opacity="1.00"/><stop offset="0.083" stop-color="rgb(128,43,43)" stop-opacity="1.00"/><stop offset="0.125" stop-color="rgb(128,43,43)" stop-opacity="1.00"/><stop offset="0.167" stop-color="rgb(128,43,43)" stop-opacity="1.00"/><stop offset="0.208" stop-color="rgb(140,41,41)" stop-opacity="1.00"/><stop offset="0.250" stop-color="rgb(224,68,45)" stop-opacity="1.00"/><stop offset="0.292" stop-color="rgb(244,230,20)" stop-opacity="1.00"/><stop offset="0.333" stop-color="rgb(145,204,103)" stop-opacity="1.00"/><stop offset="0.375" stop-color="rgb(117,192,162)" stop-opacity="1.00"/><stop offset="0.417" stop-color="rgb(125,198,206)" stop-opacity="1.00"/><stop offset="0.458" stop-color="rgb(44,162,224)" stop-opacity="1.00"/><stop offset="0.500" stop-color="rgb(60,118,189)" stop-opacity="1.00"/><stop offset="0.542" stop-color="rgb(60,99,172)" stop-opacity="1.00"/><stop offset="0.583" stop-color="rgb(60,87,162)" stop-opacity="1.00"/><stop offset="0.625" stop-color="rgb(60,77,156)" stop-opacity="1.00"/><stop offset="0.667" stop-color="rgb(61,67,149)" stop-opacity="1.00"/><stop offset="0.708" stop-color="rgb(61,58,142)" stop-opacity="1.00"/><stop offset="0.750" stop-color="rgb(59,51,136)" stop-opacity="1.00"/><stop offset="0.792" stop-color="rgb(56,46,132)" stop-opacity="1.00"/><stop offset="0.833" stop-color="rgb(54,42,128)" stop-opacity="1.00"/><stop offset="0.875" stop-color="rgb(52,39,125)" stop-opacity="0.83"/><stop offset="0.917" stop-color="rgb(50,37,122)" stop-opacity="0.56"/><stop offset="0.958" stop-color="rgb(49,35,120)" stop-opacity="0.28"/><stop offset="1.000" stop-color="rgb(49,34,120)" stop-opacity="0.00"/></radialGradient>
<linearGradient id="fcb" x1="0" y1="0" x2="0" y2="1"><stop offset="-0.0008" stop-color="rgb(125,45,45)"/><stop offset="0.0198" stop-color="rgb(135,42,42)"/><stop offset="0.0482" stop-color="rgb(160,40,40)"/><stop offset="0.0751" stop-color="rgb(190,35,35)"/><stop offset="0.1004" stop-color="rgb(220,40,40)"/><stop offset="0.1526" stop-color="rgb(222,50,45)"/><stop offset="0.1889" stop-color="rgb(225,70,45)"/><stop offset="0.2253" stop-color="rgb(232,95,48)"/><stop offset="0.2885" stop-color="rgb(240,150,60)"/><stop offset="0.3360" stop-color="rgb(245,200,10)"/><stop offset="0.3502" stop-color="rgb(250,225,0)"/><stop offset="0.3834" stop-color="rgb(235,240,60)"/><stop offset="0.4277" stop-color="rgb(180,215,90)"/><stop offset="0.4957" stop-color="rgb(130,200,110)"/><stop offset="0.5304" stop-color="rgb(120,195,140)"/><stop offset="0.5810" stop-color="rgb(117,192,170)"/><stop offset="0.6332" stop-color="rgb(122,197,195)"/><stop offset="0.6617" stop-color="rgb(130,200,222)"/><stop offset="0.6743" stop-color="rgb(105,192,226)"/><stop offset="0.6870" stop-color="rgb(60,178,230)"/><stop offset="0.6980" stop-color="rgb(42,168,230)"/><stop offset="0.7123" stop-color="rgb(45,160,222)"/><stop offset="0.7344" stop-color="rgb(55,140,205)"/><stop offset="0.7581" stop-color="rgb(60,120,190)"/><stop offset="0.7866" stop-color="rgb(60,103,175)"/><stop offset="0.8182" stop-color="rgb(60,88,163)"/><stop offset="0.8498" stop-color="rgb(61,75,155)"/><stop offset="0.8735" stop-color="rgb(62,65,148)"/><stop offset="0.9020" stop-color="rgb(61,55,140)"/><stop offset="0.9431" stop-color="rgb(55,44,130)"/><stop offset="0.9810" stop-color="rgb(48,33,118)"/><stop offset="1.0000" stop-color="rgb(45,30,112)"/></linearGradient>
</defs>
<g clip-path="url(#fc0)"><rect x="68.6" y="6.5" width="338.6" height="214.5" fill="#2e1f72"/>
<rect x="68.6" y="6.5" width="338.6" height="214.5" fill="url(#fg0_0)"/>
<rect x="68.6" y="6.5" width="338.6" height="214.5" fill="url(#fg0_1)"/>
<rect x="68.6" y="6.5" width="338.6" height="214.5" fill="url(#fg0_2)"/>
<rect x="68.6" y="6.5" width="338.6" height="214.5" fill="url(#fg0_3)"/>
</g>
<g clip-path="url(#fc1)"><rect x="594.6" y="6.5" width="338.6" height="214.5" fill="#2e1f72"/>
<rect x="594.6" y="6.5" width="338.6" height="214.5" fill="url(#fg1_0)"/>
<rect x="594.6" y="6.5" width="338.6" height="214.5" fill="url(#fg1_1)"/>
<rect x="594.6" y="6.5" width="338.6" height="214.5" fill="url(#fg1_2)"/>
<rect x="594.6" y="6.5" width="338.6" height="214.5" fill="url(#fg1_3)"/>
</g>
<g clip-path="url(#fc2)"><rect x="68.6" y="311.0" width="338.6" height="214.5" fill="#2e1f72"/>
<rect x="68.6" y="311.0" width="338.6" height="214.5" fill="url(#fg2_0)"/>
<rect x="68.6" y="311.0" width="338.6" height="214.5" fill="url(#fg2_1)"/>
<rect x="68.6" y="311.0" width="338.6" height="214.5" fill="url(#fg2_2)"/>
<rect x="68.6" y="311.0" width="338.6" height="214.5" fill="url(#fg2_3)"/>
</g>
<g clip-path="url(#fc3)"><rect x="594.6" y="311.0" width="338.6" height="214.5" fill="#2e1f72"/>
<rect x="594.6" y="311.0" width="338.6" height="214.5" fill="url(#fg3_0)"/>
<rect x="594.6" y="311.0" width="338.6" height="214.5" fill="url(#fg3_1)"/>
<rect x="594.6" y="311.0" width="338.6" height="214.5" fill="url(#fg3_2)"/>
<rect x="594.6" y="311.0" width="338.6" height="214.5" fill="url(#fg3_3)"/>
</g>
<rect x="423.4" y="6.5" width="10.4" height="214.5" fill="url(#fcb)"/>
<rect x="949.4" y="6.5" width="10.4" height="214.5" fill="url(#fcb)"/>
<rect x="423.4" y="311.0" width="10.4" height="214.5" fill="url(#fcb)"/>
<rect x="949.4" y="311.0" width="10.4" height="214.5" fill="url(#fcb)"/>
</svg>
<canvas id="h0" width="680" height="430" style="left:68.60px;top:6.50px;width:338.60px;height:214.50px"></canvas>
<canvas id="c0" width="11" height="430" style="left:423.40px;top:6.50px;width:10.4px;height:214.50px"></canvas>
<canvas id="h1" width="680" height="430" style="left:594.60px;top:6.50px;width:338.60px;height:214.50px"></canvas>
<canvas id="c1" width="11" height="430" style="left:949.40px;top:6.50px;width:10.4px;height:214.50px"></canvas>
<canvas id="h2" width="680" height="430" style="left:68.60px;top:311.00px;width:338.60px;height:214.50px"></canvas>
<canvas id="c2" width="11" height="430" style="left:423.40px;top:311.00px;width:10.4px;height:214.50px"></canvas>
<canvas id="h3" width="680" height="430" style="left:594.60px;top:311.00px;width:338.60px;height:214.50px"></canvas>
<canvas id="c3" width="11" height="430" style="left:949.40px;top:311.00px;width:10.4px;height:214.50px"></canvas>
<svg width="1024" height="581" viewBox="0 0 1024 581">
<line x1="63.20" y1="221.00" x2="68.60" y2="221.00" stroke="#231f20" stroke-width="1.7"/>
<text x="55.80" y="227.20" text-anchor="end" font-size="16">3</text>
<line x1="63.20" y1="178.10" x2="68.60" y2="178.10" stroke="#231f20" stroke-width="1.7"/>
<text x="55.80" y="184.30" text-anchor="end" font-size="16">3.5</text>
<line x1="63.20" y1="135.20" x2="68.60" y2="135.20" stroke="#231f20" stroke-width="1.7"/>
<text x="55.80" y="141.40" text-anchor="end" font-size="16">4</text>
<line x1="63.20" y1="92.30" x2="68.60" y2="92.30" stroke="#231f20" stroke-width="1.7"/>
<text x="55.80" y="98.50" text-anchor="end" font-size="16">4.5</text>
<line x1="63.20" y1="49.40" x2="68.60" y2="49.40" stroke="#231f20" stroke-width="1.7"/>
<text x="55.80" y="55.60" text-anchor="end" font-size="16">5</text>
<line x1="63.20" y1="6.50" x2="68.60" y2="6.50" stroke="#231f20" stroke-width="1.7"/>
<text x="55.80" y="12.70" text-anchor="end" font-size="16">5.5</text>
<line x1="69.00" y1="221.00" x2="69.00" y2="226.60" stroke="#231f20" stroke-width="1.7"/>
<text x="69.00" y="243.10" text-anchor="middle" font-size="16">0</text>
<line x1="136.60" y1="221.00" x2="136.60" y2="226.60" stroke="#231f20" stroke-width="1.7"/>
<text x="136.60" y="243.10" text-anchor="middle" font-size="16">2</text>
<line x1="204.20" y1="221.00" x2="204.20" y2="226.60" stroke="#231f20" stroke-width="1.7"/>
<text x="204.20" y="243.10" text-anchor="middle" font-size="16">4</text>
<line x1="271.80" y1="221.00" x2="271.80" y2="226.60" stroke="#231f20" stroke-width="1.7"/>
<text x="271.80" y="243.10" text-anchor="middle" font-size="16">6</text>
<line x1="339.40" y1="221.00" x2="339.40" y2="226.60" stroke="#231f20" stroke-width="1.7"/>
<text x="339.40" y="243.10" text-anchor="middle" font-size="16">8</text>
<line x1="407.00" y1="221.00" x2="407.00" y2="226.60" stroke="#231f20" stroke-width="1.7"/>
<text x="407.00" y="243.10" text-anchor="middle" font-size="16">10</text>
<rect x="68.60" y="6.50" width="338.60" height="214.50" fill="none" stroke="#231f20" stroke-width="1.8"/>
<text x="160.90" y="272.30" font-size="19.15">Lateral Position [Å]</text>
<text transform="translate(16.80,113.15) rotate(-90)" text-anchor="middle" font-size="19.15">Vertical Position [Å]</text>
<circle cx="94.10" cy="32.50" r="15.25" fill="#c8c8c8" stroke="#231f20" stroke-width="2.4"/>
<text x="94.20" y="39.40" text-anchor="middle" font-size="21" font-weight="bold" stroke="#231f20" stroke-width="0.3">a</text>
<path d="M165.40,203.60 L174.20,220.20 L156.60,220.20 Z" fill="#231f20"/>
<rect x="163.60" y="219.00" width="3.6" height="14.8" fill="#231f20"/>
<path d="M295.80,203.60 L304.60,220.20 L287.00,220.20 Z" fill="#231f20"/>
<rect x="294.00" y="219.00" width="3.6" height="14.8" fill="#231f20"/>
<rect x="423.40" y="6.50" width="10.40" height="214.50" fill="none" stroke="#231f20" stroke-width="1.8"/>
<line x1="433.80" y1="220.60" x2="439.60" y2="220.60" stroke="#231f20" stroke-width="1.1"/>
<text x="443.00" y="226.80" font-size="16">0</text>
<line x1="433.80" y1="152.93" x2="439.60" y2="152.93" stroke="#231f20" stroke-width="1.1"/>
<text x="443.00" y="159.13" font-size="16">200</text>
<line x1="433.80" y1="85.27" x2="439.60" y2="85.27" stroke="#231f20" stroke-width="1.1"/>
<text x="443.00" y="91.47" font-size="16">400</text>
<line x1="433.80" y1="17.60" x2="439.60" y2="17.60" stroke="#231f20" stroke-width="1.1"/>
<text x="443.00" y="23.80" font-size="16">600</text>
<text transform="translate(493.10,112.65) rotate(-90)" text-anchor="middle" font-size="19.15">Force [pN]</text>
<line x1="589.20" y1="221.00" x2="594.60" y2="221.00" stroke="#231f20" stroke-width="1.7"/>
<text x="581.80" y="227.20" text-anchor="end" font-size="16">3</text>
<line x1="589.20" y1="178.10" x2="594.60" y2="178.10" stroke="#231f20" stroke-width="1.7"/>
<text x="581.80" y="184.30" text-anchor="end" font-size="16">3.5</text>
<line x1="589.20" y1="135.20" x2="594.60" y2="135.20" stroke="#231f20" stroke-width="1.7"/>
<text x="581.80" y="141.40" text-anchor="end" font-size="16">4</text>
<line x1="589.20" y1="92.30" x2="594.60" y2="92.30" stroke="#231f20" stroke-width="1.7"/>
<text x="581.80" y="98.50" text-anchor="end" font-size="16">4.5</text>
<line x1="589.20" y1="49.40" x2="594.60" y2="49.40" stroke="#231f20" stroke-width="1.7"/>
<text x="581.80" y="55.60" text-anchor="end" font-size="16">5</text>
<line x1="589.20" y1="6.50" x2="594.60" y2="6.50" stroke="#231f20" stroke-width="1.7"/>
<text x="581.80" y="12.70" text-anchor="end" font-size="16">5.5</text>
<line x1="595.00" y1="221.00" x2="595.00" y2="226.60" stroke="#231f20" stroke-width="1.7"/>
<text x="595.00" y="243.10" text-anchor="middle" font-size="16">0</text>
<line x1="662.60" y1="221.00" x2="662.60" y2="226.60" stroke="#231f20" stroke-width="1.7"/>
<text x="662.60" y="243.10" text-anchor="middle" font-size="16">2</text>
<line x1="730.20" y1="221.00" x2="730.20" y2="226.60" stroke="#231f20" stroke-width="1.7"/>
<text x="730.20" y="243.10" text-anchor="middle" font-size="16">4</text>
<line x1="797.80" y1="221.00" x2="797.80" y2="226.60" stroke="#231f20" stroke-width="1.7"/>
<text x="797.80" y="243.10" text-anchor="middle" font-size="16">6</text>
<line x1="865.40" y1="221.00" x2="865.40" y2="226.60" stroke="#231f20" stroke-width="1.7"/>
<text x="865.40" y="243.10" text-anchor="middle" font-size="16">8</text>
<line x1="933.00" y1="221.00" x2="933.00" y2="226.60" stroke="#231f20" stroke-width="1.7"/>
<text x="933.00" y="243.10" text-anchor="middle" font-size="16">10</text>
<rect x="594.60" y="6.50" width="338.60" height="214.50" fill="none" stroke="#231f20" stroke-width="1.8"/>
<text x="686.90" y="272.30" font-size="19.15">Lateral Position [Å]</text>
<text transform="translate(546.80,113.15) rotate(-90)" text-anchor="middle" font-size="19.15">Vertical Position [Å]</text>
<circle cx="620.10" cy="32.50" r="15.25" fill="#c8c8c8" stroke="#231f20" stroke-width="2.4"/>
<text x="620.20" y="39.40" text-anchor="middle" font-size="21" font-weight="bold" stroke="#231f20" stroke-width="0.3">c</text>
<path d="M691.40,203.60 L700.20,220.20 L682.60,220.20 Z" fill="#231f20"/>
<rect x="689.60" y="219.00" width="3.6" height="14.8" fill="#231f20"/>
<path d="M821.80,203.60 L830.60,220.20 L813.00,220.20 Z" fill="#231f20"/>
<rect x="820.00" y="219.00" width="3.6" height="14.8" fill="#231f20"/>
<rect x="949.40" y="6.50" width="10.40" height="214.50" fill="none" stroke="#231f20" stroke-width="1.8"/>
<line x1="959.80" y1="220.60" x2="965.60" y2="220.60" stroke="#231f20" stroke-width="1.1"/>
<text x="969.00" y="226.80" font-size="16">0</text>
<line x1="959.80" y1="152.93" x2="965.60" y2="152.93" stroke="#231f20" stroke-width="1.1"/>
<text x="969.00" y="159.13" font-size="16">200</text>
<line x1="959.80" y1="85.27" x2="965.60" y2="85.27" stroke="#231f20" stroke-width="1.1"/>
<text x="969.00" y="91.47" font-size="16">400</text>
<line x1="959.80" y1="17.60" x2="965.60" y2="17.60" stroke="#231f20" stroke-width="1.1"/>
<text x="969.00" y="23.80" font-size="16">600</text>
<text transform="translate(1019.10,112.65) rotate(-90)" text-anchor="middle" font-size="19.15">Force [pN]</text>
<line x1="63.20" y1="525.50" x2="68.60" y2="525.50" stroke="#231f20" stroke-width="1.7"/>
<text x="55.80" y="531.70" text-anchor="end" font-size="16">3</text>
<line x1="63.20" y1="482.60" x2="68.60" y2="482.60" stroke="#231f20" stroke-width="1.7"/>
<text x="55.80" y="488.80" text-anchor="end" font-size="16">3.5</text>
<line x1="63.20" y1="439.70" x2="68.60" y2="439.70" stroke="#231f20" stroke-width="1.7"/>
<text x="55.80" y="445.90" text-anchor="end" font-size="16">4</text>
<line x1="63.20" y1="396.80" x2="68.60" y2="396.80" stroke="#231f20" stroke-width="1.7"/>
<text x="55.80" y="403.00" text-anchor="end" font-size="16">4.5</text>
<line x1="63.20" y1="353.90" x2="68.60" y2="353.90" stroke="#231f20" stroke-width="1.7"/>
<text x="55.80" y="360.10" text-anchor="end" font-size="16">5</text>
<line x1="63.20" y1="311.00" x2="68.60" y2="311.00" stroke="#231f20" stroke-width="1.7"/>
<text x="55.80" y="317.20" text-anchor="end" font-size="16">5.5</text>
<line x1="69.00" y1="525.50" x2="69.00" y2="531.10" stroke="#231f20" stroke-width="1.7"/>
<text x="69.00" y="547.60" text-anchor="middle" font-size="16">0</text>
<line x1="136.60" y1="525.50" x2="136.60" y2="531.10" stroke="#231f20" stroke-width="1.7"/>
<text x="136.60" y="547.60" text-anchor="middle" font-size="16">2</text>
<line x1="204.20" y1="525.50" x2="204.20" y2="531.10" stroke="#231f20" stroke-width="1.7"/>
<text x="204.20" y="547.60" text-anchor="middle" font-size="16">4</text>
<line x1="271.80" y1="525.50" x2="271.80" y2="531.10" stroke="#231f20" stroke-width="1.7"/>
<text x="271.80" y="547.60" text-anchor="middle" font-size="16">6</text>
<line x1="339.40" y1="525.50" x2="339.40" y2="531.10" stroke="#231f20" stroke-width="1.7"/>
<text x="339.40" y="547.60" text-anchor="middle" font-size="16">8</text>
<line x1="407.00" y1="525.50" x2="407.00" y2="531.10" stroke="#231f20" stroke-width="1.7"/>
<text x="407.00" y="547.60" text-anchor="middle" font-size="16">10</text>
<rect x="68.60" y="311.00" width="338.60" height="214.50" fill="none" stroke="#231f20" stroke-width="1.8"/>
<text x="160.90" y="576.80" font-size="19.15">Lateral Position [Å]</text>
<text transform="translate(16.80,417.65) rotate(-90)" text-anchor="middle" font-size="19.15">Vertical Position [Å]</text>
<circle cx="94.10" cy="337.00" r="15.25" fill="#c8c8c8" stroke="#231f20" stroke-width="2.4"/>
<text x="94.20" y="343.90" text-anchor="middle" font-size="21" font-weight="bold" stroke="#231f20" stroke-width="0.3">b</text>
<path d="M165.40,508.10 L174.20,524.70 L156.60,524.70 Z" fill="#231f20"/>
<rect x="163.60" y="523.50" width="3.6" height="14.8" fill="#231f20"/>
<path d="M295.80,508.10 L304.60,524.70 L287.00,524.70 Z" fill="#231f20"/>
<rect x="294.00" y="523.50" width="3.6" height="14.8" fill="#231f20"/>
<rect x="423.40" y="311.00" width="10.40" height="214.50" fill="none" stroke="#231f20" stroke-width="1.8"/>
<line x1="433.80" y1="525.10" x2="439.60" y2="525.10" stroke="#231f20" stroke-width="1.1"/>
<text x="443.00" y="531.30" font-size="16">0</text>
<line x1="433.80" y1="457.43" x2="439.60" y2="457.43" stroke="#231f20" stroke-width="1.1"/>
<text x="443.00" y="463.63" font-size="16">200</text>
<line x1="433.80" y1="389.77" x2="439.60" y2="389.77" stroke="#231f20" stroke-width="1.1"/>
<text x="443.00" y="395.97" font-size="16">400</text>
<line x1="433.80" y1="322.10" x2="439.60" y2="322.10" stroke="#231f20" stroke-width="1.1"/>
<text x="443.00" y="328.30" font-size="16">600</text>
<text transform="translate(493.10,417.15) rotate(-90)" text-anchor="middle" font-size="19.15">Force [pN]</text>
<line x1="589.20" y1="525.50" x2="594.60" y2="525.50" stroke="#231f20" stroke-width="1.7"/>
<text x="581.80" y="531.70" text-anchor="end" font-size="16">3</text>
<line x1="589.20" y1="482.60" x2="594.60" y2="482.60" stroke="#231f20" stroke-width="1.7"/>
<text x="581.80" y="488.80" text-anchor="end" font-size="16">3.5</text>
<line x1="589.20" y1="439.70" x2="594.60" y2="439.70" stroke="#231f20" stroke-width="1.7"/>
<text x="581.80" y="445.90" text-anchor="end" font-size="16">4</text>
<line x1="589.20" y1="396.80" x2="594.60" y2="396.80" stroke="#231f20" stroke-width="1.7"/>
<text x="581.80" y="403.00" text-anchor="end" font-size="16">4.5</text>
<line x1="589.20" y1="353.90" x2="594.60" y2="353.90" stroke="#231f20" stroke-width="1.7"/>
<text x="581.80" y="360.10" text-anchor="end" font-size="16">5</text>
<line x1="589.20" y1="311.00" x2="594.60" y2="311.00" stroke="#231f20" stroke-width="1.7"/>
<text x="581.80" y="317.20" text-anchor="end" font-size="16">5.5</text>
<line x1="595.00" y1="525.50" x2="595.00" y2="531.10" stroke="#231f20" stroke-width="1.7"/>
<text x="595.00" y="547.60" text-anchor="middle" font-size="16">0</text>
<line x1="662.60" y1="525.50" x2="662.60" y2="531.10" stroke="#231f20" stroke-width="1.7"/>
<text x="662.60" y="547.60" text-anchor="middle" font-size="16">2</text>
<line x1="730.20" y1="525.50" x2="730.20" y2="531.10" stroke="#231f20" stroke-width="1.7"/>
<text x="730.20" y="547.60" text-anchor="middle" font-size="16">4</text>
<line x1="797.80" y1="525.50" x2="797.80" y2="531.10" stroke="#231f20" stroke-width="1.7"/>
<text x="797.80" y="547.60" text-anchor="middle" font-size="16">6</text>
<line x1="865.40" y1="525.50" x2="865.40" y2="531.10" stroke="#231f20" stroke-width="1.7"/>
<text x="865.40" y="547.60" text-anchor="middle" font-size="16">8</text>
<line x1="933.00" y1="525.50" x2="933.00" y2="531.10" stroke="#231f20" stroke-width="1.7"/>
<text x="933.00" y="547.60" text-anchor="middle" font-size="16">10</text>
<rect x="594.60" y="311.00" width="338.60" height="214.50" fill="none" stroke="#231f20" stroke-width="1.8"/>
<text x="686.90" y="576.80" font-size="19.15">Lateral Position [Å]</text>
<text transform="translate(546.80,417.65) rotate(-90)" text-anchor="middle" font-size="19.15">Vertical Position [Å]</text>
<circle cx="620.10" cy="337.00" r="15.25" fill="#c8c8c8" stroke="#231f20" stroke-width="2.4"/>
<text x="620.20" y="343.90" text-anchor="middle" font-size="21" font-weight="bold" stroke="#231f20" stroke-width="0.3">d</text>
<path d="M691.40,508.10 L700.20,524.70 L682.60,524.70 Z" fill="#231f20"/>
<rect x="689.60" y="523.50" width="3.6" height="14.8" fill="#231f20"/>
<path d="M821.80,508.10 L830.60,524.70 L813.00,524.70 Z" fill="#231f20"/>
<rect x="820.00" y="523.50" width="3.6" height="14.8" fill="#231f20"/>
<rect x="949.40" y="311.00" width="10.40" height="214.50" fill="none" stroke="#231f20" stroke-width="1.8"/>
<line x1="959.80" y1="525.10" x2="965.60" y2="525.10" stroke="#231f20" stroke-width="1.1"/>
<text x="969.00" y="531.30" font-size="16">0</text>
<line x1="959.80" y1="457.43" x2="965.60" y2="457.43" stroke="#231f20" stroke-width="1.1"/>
<text x="969.00" y="463.63" font-size="16">100</text>
<line x1="959.80" y1="389.77" x2="965.60" y2="389.77" stroke="#231f20" stroke-width="1.1"/>
<text x="969.00" y="395.97" font-size="16">200</text>
<line x1="959.80" y1="322.10" x2="965.60" y2="322.10" stroke="#231f20" stroke-width="1.1"/>
<text x="969.00" y="328.30" font-size="16">300</text>
<text transform="translate(1019.10,417.15) rotate(-90)" text-anchor="middle" font-size="19.15">Force [pN]</text>
</svg>
<script>
var P={"alpha": 2.0, "zm": 2.94, "tailc": 0.0, "tailb": 1.0, "a": 1.14, "p": 2.6, "per": 3.86, "pk": 2.852, "shiftd": 0.53, "stops": [[0.0, [45, 30, 112]], [0.018972332015810278, [48, 33, 118]], [0.05691699604743083, [55, 44, 130]], [0.09802371541501977, [61, 55, 140]], [0.12648221343873517, [62, 65, 148]], [0.15019762845849802, [61, 75, 155]], [0.18181818181818182, [60, 88, 163]], [0.2134387351778656, [60, 103, 175]], [0.24189723320158102, [60, 120, 190]], [0.2656126482213439, [55, 140, 205]], [0.28774703557312253, [45, 160, 222]], [0.3019762845849802, [42, 168, 230]], [0.3130434782608696, [60, 178, 230]], [0.3256916996047431, [105, 192, 226]], [0.3383399209486166, [130, 200, 222]], [0.366798418972332, [122, 197, 195]], [0.4189723320158103, [117, 192, 170]], [0.46956521739130436, [120, 195, 140]], [0.5043478260869565, [130, 200, 110]], [0.5723320158102767, [180, 215, 90]], [0.616600790513834, [235, 240, 60]], [0.649802371541502, [250, 225, 0]], [0.6640316205533597, [245, 200, 10]], [0.7114624505928854, [240, 150, 60]], [0.7747035573122529, [232, 95, 48]], [0.8110671936758893, [225, 70, 45]], [0.8474308300395257, [222, 50, 45]], [0.899604743083004, [220, 40, 40]], [0.924901185770751, [190, 35, 35]], [0.9517786561264822, [160, 40, 40]], [0.9802371541501976, [135, 42, 42]], [1.000790513833992, [125, 45, 45]]], "levels": 64, "ga": 0.0, "bl": 0.15, "al": 1.2, "zl": 3.2, "aL": 1.35, "pL": 2.4, "gL": 0.1, "scale": 0.95, "fmax": 632.5, "vlog": [[2.9, 6.461468176353717], [3.0, 6.4425401664681985], [3.04, 6.416732282512326], [3.12, 6.327936783729195], [3.204, 6.198478716492308], [3.28, 6.059123195581797], [3.336, 5.978885764901122], [3.533, 5.720311776607412], [3.697, 5.488937726156687], [3.837, 5.318119993844216], [4.0, 5.075173815233827], [4.2, 4.867534450455582], [4.42, 4.663439094112067], [4.69, 4.3694478524670215], [4.82, 4.1588830833596715], [4.99, 3.871201010907891], [5.27, 3.4339872044851463], [5.5, 3.091042453358316], [5.7, 2.772588722239781]], "gA": 0.5, "gB": 0.12, "gC": 0.05, "loff": 0.5, "vlogd": [[2.9, 6.429719478039138], [3.0, 6.396929655216146], [3.04, 6.371611847231857], [3.12, 6.282266746896006], [3.204, 6.169610732491456], [3.28, 6.052089168924417], [3.336, 5.986452005284438], [3.533, 5.720311776607412], [3.697, 5.488937726156687], [3.837, 5.298317366548036], [4.0, 5.062595033026967], [4.2, 4.867534450455582], [4.42, 4.663439094112067], [4.69, 4.3694478524670215], [4.82, 4.1588830833596715], [4.99, 3.871201010907891], [5.27, 3.4339872044851463], [5.5, 3.091042453358316], [5.7, 2.772588722239781]], "gct": 0.6, "gz": 3.9, "gw": 0.7, "gd": 0.7, "qmix": 0.7};
function cmap(t){
  var S=P.stops; if(t<=0) return S[0][1]; if(t>=1) return S[S.length-1][1];
  for(var i=1;i<S.length;i++){ if(t<=S[i][0]){ var a=S[i-1],b=S[i],f=(t-a[0])/(b[0]-a[0]);
    return [a[1][0]+(b[1][0]-a[1][0])*f, a[1][1]+(b[1][1]-a[1][1])*f, a[1][2]+(b[1][2]-a[1][2])*f]; } }
  return S[S.length-1][1];
}
function interp(T,x){ if(x<=T[0][0]) return T[0][1]; for(var i=1;i<T.length;i++){ if(x<=T[i][0]){ var f=(x-T[i-1][0])/(T[i][0]-T[i-1][0]); return T[i-1][1]+(T[i][1]-T[i-1][1])*f; } } return T[T.length-1][1]; }
function V(z,tab){ return Math.exp(interp(tab||P.vlog,z)); }
function one(dx,z){
  var ad=Math.abs(dx);
  var u=ad/(1+P.ga*(z-3)); var u2=u*u; var gq=(z-P.gz)/P.gw; var gc=P.gC*(1-P.gd*Math.exp(-gq*gq)); return Math.exp(-(P.gA*u2+P.gB*u2*u2+gc*u2*u2*u2));
}
function field(x,z,shift,tab){ var h=0; for(var k=-2;k<=3;k++){ h+=one(x-(P.pk+shift+k*P.per), z); } return V(z,tab)*h/P.fmax; }
function draw(id, shift, tab){
  var c=document.getElementById(id), ctx=c.getContext('2d'), W=c.width, Hh=c.height;
  var img=ctx.createImageData(W,Hh), d=img.data;
  var pw=(407.2-68.6)/W, ph=(221-6.5)/Hh;
  for(var j=0;j<Hh;j++){ var py=6.5+(j+0.5)*ph; var z=3+(221-py)/85.8;
    for(var i=0;i<W;i++){ var px=68.6+(i+0.5)*pw; var x=(px-69)/33.8;
      var t=field(x,z,shift,tab); if(P.levels>0){ var tq=(Math.floor(t*P.levels)+P.loff)/P.levels; t=t+(tq-t)*P.qmix; }
      var col=cmap(t); var o=(j*W+i)*4; d[o]=col[0]; d[o+1]=col[1]; d[o+2]=col[2]; d[o+3]=255; } }
  ctx.putImageData(img,0,0);
}
function drawbar(id){
  var c=document.getElementById(id), ctx=c.getContext('2d'), W=c.width, Hh=c.height;
  var img=ctx.createImageData(W,Hh), d=img.data;
  for(var j=0;j<Hh;j++){ var t=1-(j+0.5)/Hh; var col=cmap(t);
    for(var i=0;i<W;i++){ var o=(j*W+i)*4; d[o]=col[0]; d[o+1]=col[1]; d[o+2]=col[2]; d[o+3]=255; } }
  ctx.putImageData(img,0,0);
}
draw('h0',0); draw('h1',0); draw('h2',0); draw('h3',P.shiftd,P.vlogd);
for(var q=0;q<4;q++) drawbar('c'+q);

</script>
</body></html>
